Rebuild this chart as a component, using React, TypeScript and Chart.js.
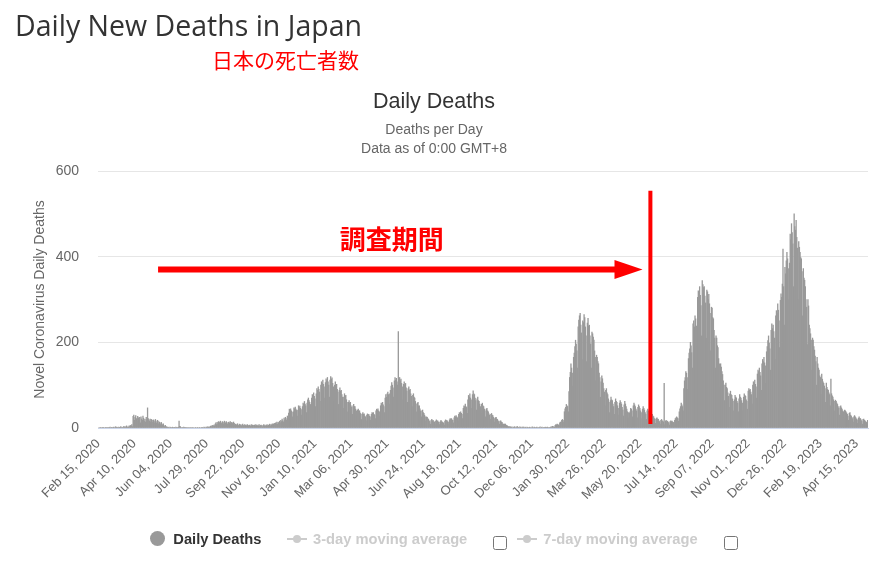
import { useEffect, useRef } from "react";
import { Chart, registerables } from "chart.js";

// Register Chart.js components
Chart.register(...registerables);

const FONT = "'Liberation Sans', Arial, Helvetica, sans-serif";

// Daily deaths (Feb 15, 2020 -> May 02, 2023)
const deaths2020 = [
  0, 0, 0, 1, 0, 0, 1, 0, 1, 0, 0, 1, 0, 1, 0, // Feb
  1, 0, 1, 2, 0, 1, 1, 0, 2, 1, 0, 3, 1, 2, 1, 0, 2, 1, 1, 3, 2, 0, 1, 2, 4, 1, 3, 2, 5, 1, 3, // Mar
  2, 5, 3, 6, 4, 8, 3, 27, 30, 18, 25, 29, 22, 17, 27, 24, 19, 25, 12, 26, 21, 18, 28, 23, 16, 20, 14, 25, 19, 47, // Apr
  22, 19, 16, 21, 14, 20, 18, 13, 19, 17, 12, 20, 15, 11, 18, 16, 10, 14, 12, 8, 13, 9, 7, 10, 5, 3, 6, 2, 3, 1, 2, // May
  1, 0, 2, 1, 0, 1, 2, 0, 1, 1, 0, 2, 1, 0, 1, 2, 16, 4, 3, 1, 0, 1, 0, 2, 1, 0, 1, 0, 1, 0, // Jun
  0, 1, 0, 0, 1, 0, 0, 1, 0, 0, 0, 1, 0, 0, 1, 0, 0, 1, 0, 0, 1, 0, 1, 0, 2, 1, 0, 2, 1, 3, 2, // Jul
  2, 3, 1, 4, 5, 3, 6, 4, 7, 5, 9, 12, 8, 13, 10, 15, 11, 14, 16, 9, 12, 15, 13, 10, 16, 14, 11, 15, 12, 9, 13, // Aug
  14, 11, 15, 10, 13, 12, 9, 14, 11, 7, 9, 6, 8, 10, 5, 7, 9, 6, 8, 5, 7, 9, 6, 4, 8, 6, 7, 5, 8, 6, // Sep
  5, 7, 6, 4, 8, 5, 7, 6, 3, 7, 5, 8, 6, 4, 7, 5, 8, 4, 6, 7, 5, 3, 6, 8, 5, 7, 4, 6, 8, 5, 7, // Oct
  6, 9, 5, 8, 7, 10, 6, 9, 11, 8, 12, 10, 14, 9, 13, 11, 16, 12, 18, 15, 21, 17, 14, 23, 19, 25, 22, 18, 28, 24, // Nov
  35, 44, 43, 45, 40, 37, 26, 38, 47, 45, 49, 44, 41, 28, 42, 52, 48, 51, 46, 43, 30, 50, 58, 55, 62, 56, 52, 36, 58, 66, 70, // Dec
];

const deaths2021 = [
  64, 60, 55, 44, 70, 78, 76, 82, 74, 68, 50, 80, 92, 88, 96, 90, 84, 62, 100, 108, 104, 112, 102, 96, 70, 106, 115, 110, 118, 108, 100, // Jan
  72, 112, 120, 114, 117, 104, 96, 64, 100, 108, 98, 102, 90, 84, 55, 88, 94, 86, 88, 78, 72, 46, 72, 80, 74, 76, 66, 60, // Feb
  38, 60, 64, 58, 60, 52, 48, 32, 52, 55, 50, 50, 44, 40, 26, 42, 44, 40, 40, 35, 32, 20, 33, 36, 32, 33, 28, 26, 17, 30, 33, // Mar
  30, 32, 28, 26, 18, 32, 36, 34, 36, 32, 30, 22, 40, 44, 42, 45, 40, 38, 28, 52, 58, 55, 60, 54, 50, 36, 70, 78, 72, 80, // Apr
  84, 78, 56, 80, 88, 98, 106, 100, 94, 72, 110, 118, 112, 116, 108, 100, 225, 112, 118, 110, 114, 104, 96, 66, 102, 108, 100, 104, 94, 86, 60, // May
  92, 96, 88, 90, 80, 74, 50, 76, 80, 72, 70, 62, 56, 38, 58, 60, 52, 52, 45, 40, 26, 40, 42, 36, 34, 30, 26, 16, 26, 25, // Jun
  22, 20, 17, 15, 9, 18, 20, 17, 18, 15, 14, 8, 16, 19, 16, 17, 14, 13, 8, 15, 18, 15, 14, 12, 12, 7, 16, 19, 17, 18, 15, // Jul
  14, 9, 19, 22, 20, 22, 19, 18, 12, 24, 28, 26, 29, 26, 24, 16, 32, 36, 34, 38, 34, 32, 22, 46, 52, 50, 56, 50, 48, 34, 66, // Aug
  76, 72, 80, 70, 66, 46, 78, 87, 80, 78, 70, 64, 42, 68, 72, 64, 62, 56, 50, 34, 55, 58, 52, 50, 44, 40, 26, 44, 46, 40, // Sep
  38, 33, 30, 20, 32, 34, 30, 29, 25, 22, 14, 24, 25, 21, 20, 17, 15, 9, 16, 17, 14, 13, 10, 9, 5, 9, 9, 7, 6, 5, 4, // Oct
  3, 1, 4, 2, 1, 3, 0, 2, 1, 3, 2, 0, 1, 4, 2, 1, 0, 3, 1, 2, 0, 1, 3, 1, 0, 2, 1, 0, 2, 1, // Nov
  0, 1, 2, 0, 1, 0, 3, 1, 0, 2, 1, 0, 1, 2, 0, 1, 0, 1, 3, 0, 1, 2, 0, 1, 0, 1, 2, 0, 1, 2, 1, // Dec
];

const deaths2022 = [
  0, 1, 0, 2, 3, 2, 4, 3, 3, 2, 6, 8, 7, 9, 8, 7, 5, 12, 14, 13, 18, 20, 18, 14, 38, 45, 48, 55, 52, 50, 38, // Jan
  85, 118, 130, 150, 140, 128, 98, 165, 175, 190, 205, 196, 180, 140, 236, 252, 262, 268, 240, 222, 160, 250, 246, 265, 258, 236, 215, 155, // Feb
  245, 256, 238, 240, 215, 196, 140, 224, 220, 212, 205, 180, 165, 110, 170, 165, 155, 150, 128, 118, 72, 108, 122, 115, 105, 92, 84, 52, 88, 92, 82, // Mar
  78, 68, 60, 36, 64, 72, 66, 64, 56, 50, 32, 60, 68, 62, 60, 52, 46, 30, 58, 64, 60, 56, 48, 42, 28, 54, 62, 56, 50, 44, // Apr
  38, 24, 36, 34, 38, 46, 44, 40, 26, 52, 58, 54, 50, 44, 40, 24, 48, 54, 50, 46, 40, 36, 22, 44, 50, 46, 42, 36, 32, 20, 40, // May
  44, 40, 38, 32, 28, 16, 30, 32, 28, 26, 22, 20, 11, 22, 24, 21, 20, 17, 15, 9, 18, 20, 17, 16, 14, 104, 8, 16, 18, 15, // Jun
  16, 14, 12, 7, 15, 17, 15, 16, 14, 13, 8, 18, 22, 24, 26, 24, 22, 16, 38, 45, 50, 58, 54, 50, 40, 92, 110, 118, 132, 128, 118, // Jul
  90, 162, 175, 185, 200, 192, 176, 140, 243, 250, 236, 262, 255, 238, 190, 305, 320, 318, 330, 310, 286, 215, 344, 335, 328, 330, 308, 292, 210, 322, 318, // Aug
  300, 312, 290, 268, 180, 282, 280, 258, 255, 228, 210, 140, 215, 210, 192, 188, 162, 150, 95, 150, 142, 132, 125, 110, 100, 64, 100, 105, 95, 92, // Sep
  82, 74, 48, 80, 86, 78, 76, 68, 62, 40, 66, 76, 72, 70, 62, 58, 38, 68, 78, 72, 70, 64, 58, 40, 72, 80, 76, 74, 66, 62, 44, // Oct
  86, 92, 88, 90, 84, 78, 56, 100, 108, 105, 112, 102, 96, 70, 126, 135, 132, 140, 130, 122, 88, 150, 160, 155, 165, 152, 145, 104, 178, 190, // Nov
  204, 215, 198, 185, 135, 228, 243, 232, 240, 225, 210, 160, 262, 274, 268, 290, 275, 250, 188, 298, 313, 305, 336, 418, 330, 240, 375, 360, 390, 410, 395, // Dec
];

const deaths2023 = [
  372, 300, 385, 453, 440, 477, 456, 430, 330, 500, 470, 462, 485, 445, 420, 300, 435, 422, 410, 398, 395, 365, 262, 372, 350, 345, 330, 300, 282, 195, 300, // Jan
  285, 240, 232, 220, 205, 135, 210, 205, 190, 182, 168, 155, 100, 165, 150, 140, 135, 122, 118, 78, 126, 114, 108, 104, 98, 92, 60, 105, // Feb
  95, 90, 88, 82, 78, 52, 114, 80, 75, 72, 66, 62, 40, 65, 62, 58, 55, 50, 46, 30, 50, 52, 47, 44, 40, 38, 24, 42, 40, 38, 35, // Mar
  32, 28, 18, 34, 36, 30, 28, 25, 22, 14, 26, 29, 26, 24, 21, 19, 11, 23, 26, 22, 22, 19, 16, 9, 20, 21, 18, 17, 15, 13, // Apr
  8, 18, // May
];

const dailyDeaths = [...deaths2020, ...deaths2021, ...deaths2022, ...deaths2023];

const monthNames = ["Jan", "Feb", "Mar", "Apr", "May", "Jun", "Jul", "Aug", "Sep", "Oct", "Nov", "Dec"];
const firstDay = Date.UTC(2020, 1, 15);

// one category per day
const categories = dailyDeaths.map((_, i) => {
  const d = new Date(firstDay + i * 86400000);
  return `${monthNames[d.getUTCMonth()]} ${String(d.getUTCDate()).padStart(2, "0")}, ${d.getUTCFullYear()}`;
});

const tickLabels = [
  "Feb 15, 2020", "Apr 10, 2020", "Jun 04, 2020", "Jul 29, 2020", "Sep 22, 2020", "Nov 16, 2020",
  "Jan 10, 2021", "Mar 06, 2021", "Apr 30, 2021", "Jun 24, 2021", "Aug 18, 2021", "Oct 12, 2021",
  "Dec 06, 2021", "Jan 30, 2022", "Mar 26, 2022", "May 20, 2022", "Jul 14, 2022", "Sep 07, 2022",
  "Nov 01, 2022", "Dec 26, 2022", "Feb 19, 2023", "Apr 15, 2023",
];
const yTicks = [0, 200, 400, 600];

// red hand-drawn annotation (study period), placed in data units
const arrowFrom = "May 16, 2020";
const arrowTo = "May 24, 2022";
const studyEnd = "Jun 05, 2022";
const arrowLevel = 370;
const lineTopLevel = 554;
const noteAt = "May 07, 2021";
const noteLevel = 441;
const noteText = "調査期間";

const studyPeriodPlugin = {
  id: "studyPeriod",
  afterDraw(chart: any) {
    const { ctx, scales } = chart;
    const x = scales.x;
    const y = scales.y;
    const red = "#ff0000";
    ctx.save();

    // vertical line
    const lx = x.getPixelForValue(categories.indexOf(studyEnd));
    ctx.strokeStyle = red;
    ctx.lineWidth = 4;
    ctx.beginPath();
    ctx.moveTo(lx, y.getPixelForValue(lineTopLevel));
    ctx.lineTo(lx, y.getPixelForValue(0) - 4);
    ctx.stroke();

    // arrow
    const ay = y.getPixelForValue(arrowLevel);
    const ax0 = x.getPixelForValue(categories.indexOf(arrowFrom));
    const tip = x.getPixelForValue(categories.indexOf(arrowTo));
    const headLen = 28;
    ctx.lineWidth = 6;
    ctx.beginPath();
    ctx.moveTo(ax0, ay);
    ctx.lineTo(tip - headLen + 1, ay);
    ctx.stroke();
    ctx.fillStyle = red;
    ctx.beginPath();
    ctx.moveTo(tip, ay);
    ctx.lineTo(tip - headLen, ay - 9.5);
    ctx.lineTo(tip - headLen, ay + 9.5);
    ctx.closePath();
    ctx.fill();

    // label
    ctx.font = "bold 26px 'Noto Sans CJK JP', sans-serif";
    ctx.textAlign = "center";
    ctx.textBaseline = "middle";
    ctx.fillText(noteText, x.getPixelForValue(categories.indexOf(noteAt)), y.getPixelForValue(noteLevel));
    ctx.restore();
  },
};

const textBox = (left: number, top: number, font: string, color: string, lineHeight: string) => ({
  position: "absolute" as const,
  left,
  top,
  font,
  color,
  lineHeight,
  whiteSpace: "nowrap" as const,
  margin: 0,
});

const App = () => {
  const canvasRef = useRef<HTMLCanvasElement>(null);
  const chartRef = useRef<Chart | null>(null);

  useEffect(() => {
    if (!canvasRef.current) return;
    if (chartRef.current) chartRef.current.destroy();
    const ctx = canvasRef.current.getContext("2d");
    if (!ctx) return;

    const tickSet = new Set(tickLabels);

    chartRef.current = new Chart(ctx, {
      type: "bar",
      data: {
        labels: categories,
        datasets: [
          {
            label: "Daily Deaths",
            data: dailyDeaths,
            backgroundColor: "#999999",
            borderWidth: 0,
            barPercentage: 1,
            categoryPercentage: 1,
          },
        ],
      },
      options: {
        responsive: false,
        animation: false,
        events: [],
        layout: { padding: { left: 28, right: 13, top: 171, bottom: 0 } },
        plugins: {
          legend: { display: false },
          tooltip: { enabled: false },
        },
        scales: {
          x: {
            grid: { display: false, drawTicks: false },
            border: { color: "#ccd6eb" },
            ticks: {
              autoSkip: false,
              minRotation: 45,
              maxRotation: 45,
              padding: 8,
              color: "#666666",
              font: { size: 13, family: FONT },
              callback: (value: any) => {
                const lab = categories[value as number];
                return tickSet.has(lab) ? lab : null;
              },
            },
            afterFit: (scale: any) => {
              scale.height = 136;
            },
          },
          y: {
            min: 0,
            max: 600,
            afterBuildTicks: (scale: any) => {
              scale.ticks = yTicks.map((v) => ({ value: v }));
            },
            grid: { color: "#e6e6e6", drawTicks: false },
            border: { display: false },
            ticks: {
              padding: 19,
              color: "#666666",
              font: { size: 14, family: FONT },
            },
            title: {
              display: true,
              text: "Novel Coronavirus Daily Deaths",
              color: "#666666",
              font: { size: 14, family: FONT },
              padding: { top: 4, bottom: 4 },
            },
            afterFit: (scale: any) => {
              scale.width = 70;
            },
          },
        },
      },
      plugins: [studyPeriodPlugin],
    });

    return () => {
      if (chartRef.current) {
        chartRef.current.destroy();
        chartRef.current = null;
      }
    };
  }, []);

  const legendText = (left: number, color: string) =>
    textBox(left, 530.7, `bold 14.7px ${FONT}`, color, "16.4px");

  const checkbox = (left: number) => ({
    position: "absolute" as const,
    left,
    top: 536,
    width: 12,
    height: 12,
    border: "1.5px solid #767676",
    borderRadius: 2.5,
    background: "#fff",
  });

  const lineMarker = (left: number) => (
    <>
      <div style={{ position: "absolute", left, top: 537.5, width: 20, height: 2, background: "#cccccc" }} />
      <div
        style={{
          position: "absolute",
          left: left + 6,
          top: 534.5,
          width: 8,
          height: 8,
          borderRadius: "50%",
          background: "#cccccc",
        }}
      />
    </>
  );

  return (
    <div style={{ position: "fixed", left: 0, top: 0, width: 881, height: 564, background: "#fff", overflow: "hidden" }}>
      <canvas ref={canvasRef} width={881} height={564} style={{ position: "absolute", left: 0, top: 0 }}></canvas>

      <div style={textBox(15, 6.2, "28.5px 'Open Sans', sans-serif", "#333333", "38.8px")}>Daily New Deaths in Japan</div>
      <div style={textBox(212, 48.5, "21px 'Noto Sans CJK JP', sans-serif", "#ff0000", "21px")}>日本の死亡者数</div>

      <div style={{ ...textBox(0, 89, `21.5px ${FONT}`, "#333333", "24px"), width: 868, textAlign: "center" }}>Daily Deaths</div>
      <div style={{ ...textBox(0, 119.7, `14px ${FONT}`, "#666666", "19px"), width: 868, textAlign: "center" }}>
        Deaths per Day
        <br />
        Data as of 0:00 GMT+8
      </div>

      <div style={{ position: "absolute", left: 150, top: 531.2, width: 15, height: 15, borderRadius: "50%", background: "#999999" }} />
      <div style={legendText(173.3, "#333333")}>Daily Deaths</div>
      {lineMarker(286.7)}
      <div style={legendText(313, "#cccccc")}>3-day moving average</div>
      <div style={checkbox(493.3)} />
      {lineMarker(517.3)}
      <div style={legendText(543.3, "#cccccc")}>7-day moving average</div>
      <div style={checkbox(724)} />
    </div>
  );
};

export default App;
